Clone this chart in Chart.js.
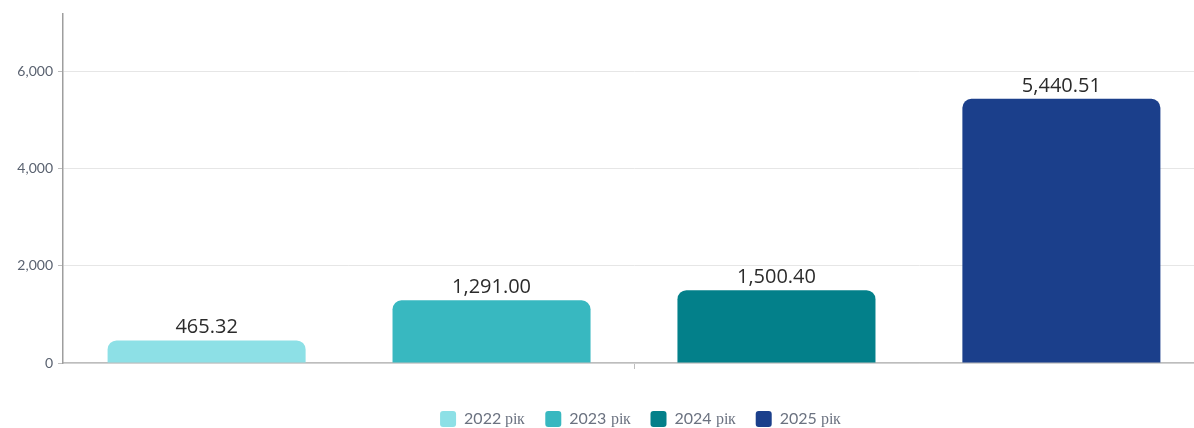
<!DOCTYPE html>
<html>
<head>
<meta charset="utf-8">
<script src="https://cdn.jsdelivr.net/npm/chart.js@4"></script>
<style>
@font-face { font-family: 'CyrSerif'; src: local('Liberation Serif'), local('LiberationSerif'); unicode-range: U+0400-04FF; }
html,body{margin:0;padding:0;background:#fff;overflow:hidden;}
#wrap{position:relative;width:1282px;height:437px;}
</style>
</head>
<body>
<div id="wrap"><canvas id="c" width="1282" height="437"></canvas></div>
<script>
const categories = [''];
const seriesNames = ['2022 рік', '2023 рік', '2024 рік', '2025 рік'];
const seriesValues = [[465.32], [1291.00], [1500.40], [5440.51]];
const seriesColors = ['#8de0e6', '#38b8c0', '#03808a', '#1b3f8b'];
const yTicks = [0, 2000, 4000, 6000];
const yMax = 7200;

const fmt = v => v.toLocaleString('en-US', {minimumFractionDigits: 2, maximumFractionDigits: 2});

const valueLabels = {
  id: 'valueLabels',
  afterDatasetsDraw(chart) {
    const ctx = chart.ctx;
    ctx.save();
    ctx.font = '20px "Open Sans", sans-serif';
    ctx.fillStyle = '#2b2b2b';
    ctx.textAlign = 'center';
    ctx.textBaseline = 'bottom';
    chart.data.datasets.forEach((ds, i) => {
      chart.getDatasetMeta(i).data.forEach((bar, j) => {
        ctx.fillText(fmt(ds.data[j]), bar.x, bar.y - 3);
      });
    });
    ctx.restore();
  }
};

const legendShift = {
  id: 'legendShift',
  afterLayout(chart) {
    if (chart.legend) { chart.legend.left += 38; chart.legend.right += 38; }
  }
};

function draw() {
  new Chart(document.getElementById('c'), {
    type: 'bar',
    data: {
      labels: categories,
      datasets: seriesNames.map((n, i) => ({
        label: n,
        data: seriesValues[i],
        backgroundColor: seriesColors[i],
        borderRadius: 9,
        borderSkipped: 'start',
        categoryPercentage: 0.998,
        barPercentage: 0.695
      }))
    },
    options: {
      responsive: false,
      animation: false,
      layout: { padding: { top: 8, right: 77, left: 0, bottom: 0 } },
      plugins: {
        tooltip: { enabled: false },
        legend: {
          position: 'bottom',
          labels: {
            boxWidth: 16, boxHeight: 16, useBorderRadius: true, borderRadius: 3,
            color: '#6b7280',
            font: { family: 'CyrSerif, Lato, sans-serif', size: 16 },
            padding: 20
          }
        }
      },
      scales: {
        x: {
          afterFit: s => { s.height = 28; },
          grid: { offset: false, drawOnChartArea: false, drawTicks: true, tickLength: 6, color: '#bdbdbd' },
          border: { color: '#bdbdbd', width: 1.5 },
          ticks: { display: false }
        },
        y: {
          min: 0, max: yMax,
          afterBuildTicks: s => { s.ticks = yTicks.map(v => ({ value: v })); },
          afterFit: s => { s.width = 63; },
          grid: { color: '#e6e6e6', tickLength: 5, tickColor: '#bdbdbd' },
          border: { color: '#9e9e9e', width: 1.5 },
          ticks: {
            color: '#5a6270', padding: 5,
            font: { family: 'Lato, sans-serif', size: 14 },
            callback: v => v.toLocaleString('en-US')
          }
        }
      }
    },
    plugins: [valueLabels, legendShift]
  });
}

Promise.all([
  document.fonts.load('16px CyrSerif', 'рік'),
  document.fonts.load('16px Lato', '2022'),
  document.fonts.load('20px "Open Sans"', '5,440.51')
]).then(draw, draw);
</script>
</body>
</html>
